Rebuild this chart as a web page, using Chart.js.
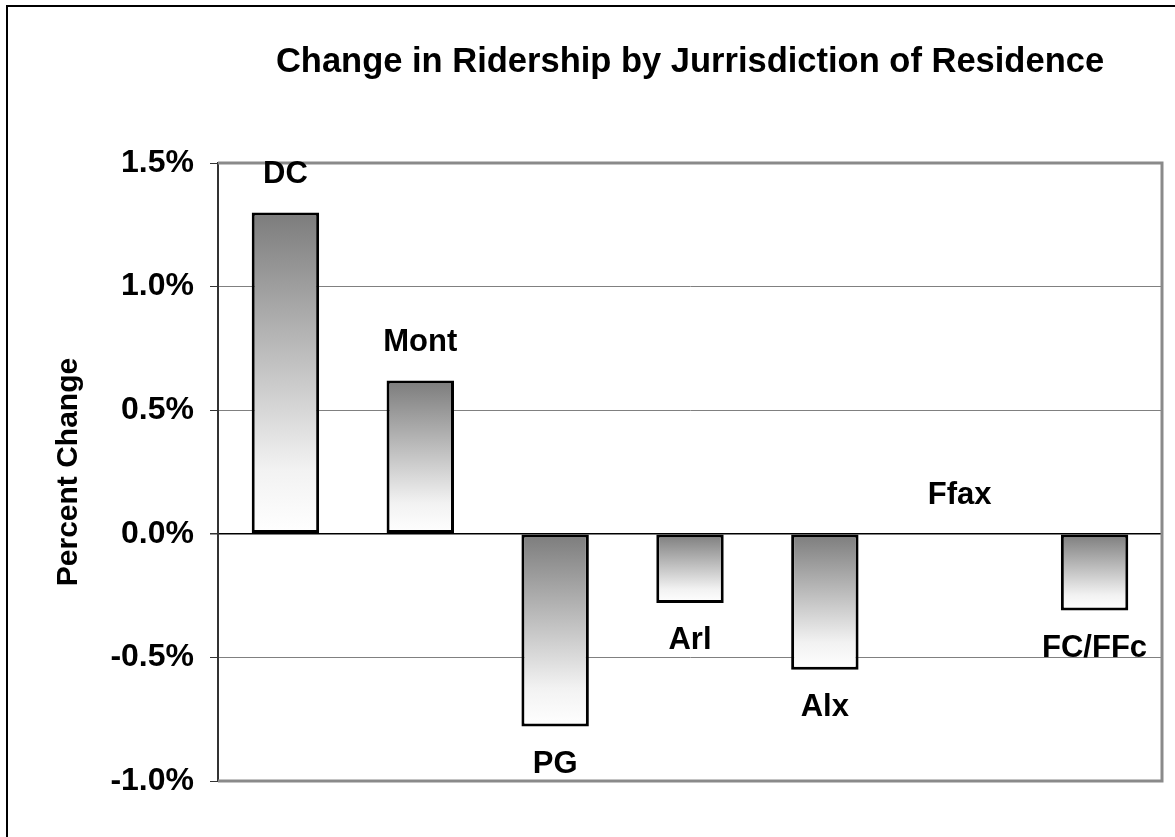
<!DOCTYPE html>
<html>
<head>
<meta charset="utf-8">
<script src="https://cdn.jsdelivr.net/npm/chart.js@4/dist/chart.umd.min.js"></script>
<style>
  html, body { margin: 0; padding: 0; background: #fff; }
  #wrap { width: 1175px; height: 837px; position: relative; }
</style>
</head>
<body>
<div id="wrap"><canvas id="c"></canvas></div>
<script>
// ---- data (percent change) ----
const categories = ["DC", "Mont", "PG", "Arl", "Alx", "Ffax", "FC/FFc"];
const percentChange = [1.30, 0.62, -0.78, -0.28, -0.55, 0.0, -0.31];
const yTickValues = [-1.0, -0.5, 0.0, 0.5, 1.0, 1.5];
const chartTitle = "Change in Ridership by Jurrisdiction of Residence";
const yAxisTitle = "Percent Change";

const FONT = "'Liberation Sans', Arial, Helvetica, sans-serif";

function barGradient(ctx) {
  const chart = ctx.chart;
  if (!chart.chartArea || !chart.scales.y) return '#aaaaaa';
  const y = chart.scales.y;
  const v = ctx.raw;
  const top = y.getPixelForValue(Math.max(v, 0));
  const bot = y.getPixelForValue(Math.min(v, 0));
  if (Math.abs(bot - top) < 1) return '#ffffff';
  const g = chart.ctx.createLinearGradient(0, top, 0, bot);
  g.addColorStop(0, '#7c7c7c');
  g.addColorStop(0.8, '#f2f2f2');
  g.addColorStop(1, '#ffffff');
  return g;
}

const decorPlugin = {
  id: 'decor',
  beforeDraw(chart) {
    const c = chart.ctx;
    c.save();
    c.fillStyle = '#ffffff';
    c.fillRect(0, 0, chart.width, chart.height);
    c.strokeStyle = '#000000';
    c.lineWidth = 2;
    c.beginPath();
    c.moveTo(7, chart.height + 2);
    c.lineTo(7, 6);
    c.lineTo(chart.width + 2, 6);
    c.stroke();
    c.restore();
  },
  beforeDatasetsDraw(chart) {
    const c = chart.ctx;
    const a = chart.chartArea;
    c.save();
    c.strokeStyle = '#8a8a8a';
    c.lineWidth = 3;
    c.beginPath();
    c.moveTo(a.left, a.top);
    c.lineTo(a.right, a.top);
    c.lineTo(a.right, a.bottom);
    c.lineTo(a.left, a.bottom);
    c.stroke();
    c.restore();
  },
  afterDatasetsDraw(chart) {
    const c = chart.ctx;
    const meta = chart.getDatasetMeta(0);
    c.save();
    c.fillStyle = '#000000';
    c.font = "bold 31px " + FONT;
    c.textAlign = 'center';
    c.textBaseline = 'alphabetic';
    meta.data.forEach((bar, i) => {
      const v = percentChange[i];
      const capHalf = 0.358 * 31;
      let cy;
      if (v >= 0) cy = bar.y - 41; else cy = bar.y + 35;
      c.fillText(categories[i], bar.x, cy + capHalf);
    });
    c.restore();
  }
};

new Chart(document.getElementById('c'), {
  type: 'bar',
  data: {
    labels: categories,
    datasets: [{
      data: percentChange,
      backgroundColor: barGradient,
      borderColor: '#000000',
      borderWidth: 3,
      borderSkipped: false,
      barPercentage: 0.5,
      categoryPercentage: 1.0
    }]
  },
  options: {
    responsive: true,
    maintainAspectRatio: false,
    animation: false,
    layout: { padding: { left: 0, right: 13, top: 0, bottom: 56 } },
    plugins: {
      legend: { display: false },
      tooltip: { enabled: false },
      title: {
        display: true,
        text: chartTitle,
        fullSize: false,
        color: '#000000',
        font: { family: FONT, size: 34.5, weight: 'bold', lineHeight: 1.2 },
        padding: { top: 42, bottom: 79.6 }
      }
    },
    scales: {
      x: { display: false },
      y: {
        min: -1.0,
        max: 1.5,
        afterFit(scale) { scale.width = 218; },
        afterBuildTicks(scale) { scale.ticks = yTickValues.map(v => ({ value: v })); },
        ticks: {
          color: '#000000',
          padding: 16,
          font: { family: FONT, size: 32, weight: 'bold' },
          callback: (v) => Number(v).toFixed(1) + '%'
        },
        grid: {
          drawTicks: true,
          tickLength: 8,
          tickColor: '#333333',
          lineWidth: (ctx) => (ctx.tick && ctx.tick.value === 0) ? 1.5 : 1,
          color: (ctx) => {
            if (!ctx.tick) return '#808080';
            const v = ctx.tick.value;
            if (v === 0) return '#000000';
            if (v === 1.5 || v === -1.0) return 'rgba(0,0,0,0)';
            return '#808080';
          }
        },
        border: { display: true, color: '#333333', width: 2 },
        title: {
          display: true,
          text: yAxisTitle,
          color: '#000000',
          font: { family: FONT, size: 30, weight: 'bold', lineHeight: 1.2 },
          padding: { top: 51, bottom: 0 }
        }
      }
    }
  },
  plugins: [decorPlugin]
});
</script>
</body>
</html>
